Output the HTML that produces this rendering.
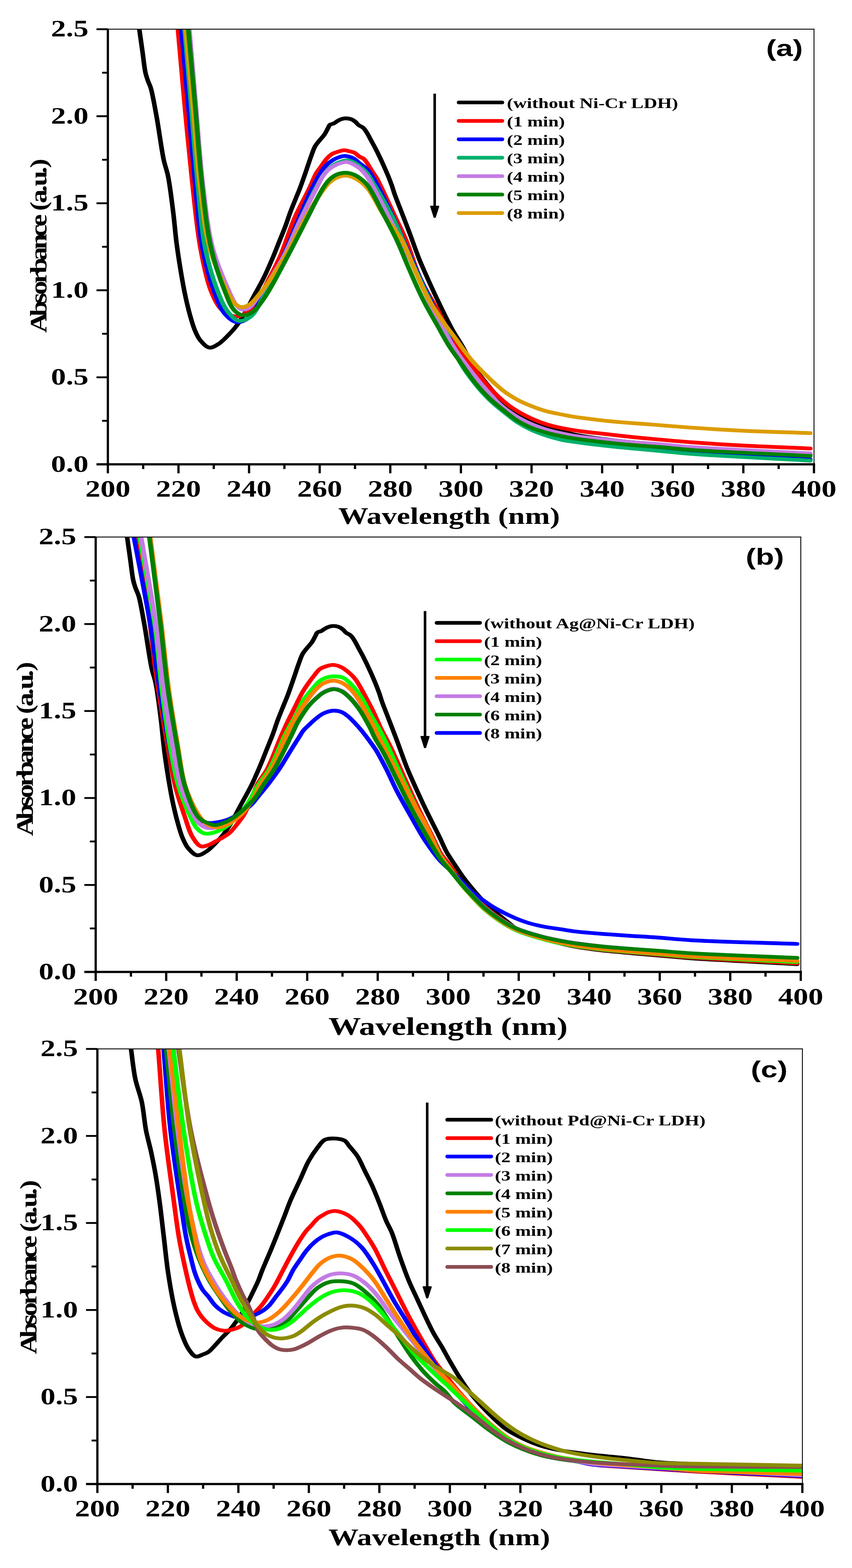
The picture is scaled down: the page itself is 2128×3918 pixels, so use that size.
<!DOCTYPE html>
<html lang="en">
<head>
<meta charset="utf-8">
<title>UV-Vis absorbance spectra</title>
<style>
html,body{margin:0;padding:0;background:#fff}
body{width:2128px;height:3918px;overflow:hidden}
svg{display:block}
text{font-weight:bold;fill:#000}
.se{font-family:"Liberation Serif", "DejaVu Serif", serif}
.sa{font-family:"Liberation Sans", "DejaVu Sans", sans-serif}
.cv path{fill:none;stroke-width:9.4;stroke-linejoin:round;stroke-linecap:round}
.lg path{fill:none;stroke-width:9.2;stroke-linecap:round}
</style>
</head>
<body>

<svg width="2128" height="3918" viewBox="0 0 2128 3918" role="img" aria-label="UV-Vis absorbance spectra, panels a, b and c">
<rect width="2128" height="3918" fill="#fff"/>
<g id="panel-a">
<clipPath id="clip-a"><rect x="269.4" y="73" width="1763.6" height="1087.2"/></clipPath>
<g clip-path="url(#clip-a)"><g class="cv" transform="scale(1.22 1)">
<path d="M285.2 73C287.4 92 289.7 111.5 291.8 130C293.8 147.6 295.4 168.3 297.8 181.5C299.3 189.9 301 195.3 302.9 202C304.7 208.4 306.9 212.4 308.9 220.8C312.8 236.9 316.7 266 320.7 292.3C325.5 324.4 330.5 372.4 335.2 399.5C338.2 416.3 341.3 423.8 344 440C348 463.9 351.5 500.1 354.5 529.3C357.4 557.2 358.8 583.3 361.9 611.5C365.2 641.5 370.2 679.1 373.8 704C376.2 720.9 378.1 732.3 380.7 746.5C383.3 760.8 386.3 775.9 389.4 789.3C392.2 801.2 394.6 812.5 398.2 823C401.5 832.7 404.6 842.4 409.9 850.1C415 857.5 422.3 867.7 429 868.7C435.1 869.6 442 863.7 448 859C455.3 853.4 462.6 843.2 468.5 836C473.4 829.9 477.1 825.2 481.3 818.7C486.3 811.1 491.7 801.4 496 793C500 785.2 503 778 506.6 770C510.3 761.5 513.6 753.8 518 743.6C524.2 729.6 533.3 710.7 540.2 693.6C547.2 676.2 554 656.5 559.8 640C564.6 626 568.4 613.6 572.6 600.8C576.6 588.6 580.7 577 584.3 565.1C588 553.2 590.9 541.2 594.6 529.3C598.3 517.4 602.8 504.3 606.3 493.6C609.2 484.9 611.6 478.4 614.2 470C617.1 460.6 620.5 448.8 623 440C625 433.2 626.2 428.7 628.1 421.9C630.6 413.1 633.7 401.2 636.6 391.5C639.4 382.5 641.7 372.8 645.1 365.5C647.8 359.6 651.3 355.3 654.5 350.4C657.7 345.5 661.4 341.1 664.3 336.1C667.1 331 669.5 324.4 671.6 320C673 316.9 673.3 313.9 675.2 312C677.2 310.1 680.5 310 683.3 308.4C686.6 306.4 689.9 302.5 693.6 300.4C697.2 298.4 701.2 296.4 705.2 295.9C709.4 295.4 714.6 296.2 718.4 297.7C721.9 299.1 724.6 301.5 727.2 304C730 306.6 731.8 310.4 734.6 312.9C737.2 315.4 740.8 316.4 743.4 319.1C746.3 322.2 748.3 326.3 750.7 330.8C753.7 336.4 756.6 343.9 759.5 350.4C762.4 357 765.4 363.4 768.3 370.1C771.3 377.1 774.2 384.2 777 391.5C780 399.1 782.9 406.9 785.8 414.8C788.8 423 791.9 431.6 794.7 439.8C797.3 447.7 799.7 455.3 802 463C804.2 470.6 805.5 477 808.1 485.9C811.9 498.7 817.9 516.8 822.8 532.3C827.7 547.8 832.2 561.8 837.5 578.8C843.8 599.3 852.4 629.7 858 646.7C861.3 657 862.8 660.9 866.6 671.5C873.4 690.4 885.9 724.5 895.9 750C905.5 774.5 915.9 801.1 925.2 821.6C932.3 837.4 938.6 848.1 945.7 863C953.9 880.2 962.3 902.4 971.3 919C979 933.2 986.9 944.2 995.5 957C1004.6 970.5 1013.7 985.6 1024.6 998C1035.2 1010.2 1048.2 1021.9 1059.8 1031C1069.7 1038.7 1079.2 1044.4 1089.1 1050C1098.7 1055.4 1108.6 1059.6 1118.4 1064C1128 1068.3 1137.7 1072.3 1147.5 1076C1157.3 1079.7 1165.4 1083 1177 1086C1193.1 1090.2 1216 1093.8 1235.6 1097C1255.1 1100.2 1274.7 1102.7 1294.2 1105C1313.6 1107.3 1332.6 1108.9 1352.5 1111C1373.3 1113.2 1392.7 1115.8 1416.4 1118C1446 1120.8 1480.1 1123.4 1516.4 1126C1559.7 1129.1 1611.5 1132 1659 1135" stroke="#000000"/>
<path d="M364.3 73C368.8 135.3 373.1 197.6 377.9 260C382.7 322.6 387.5 386.9 393 448C398.3 506.3 402.7 568.5 410.2 618.7C416.2 658.7 423 698.3 431.6 725.9C437.4 744.2 443.2 759.5 450.8 770C456.2 777.4 462.7 782.6 468.9 786C473.9 788.8 479 790.7 484.3 790.5C489.9 790.3 496 788.1 501.6 784C509.6 778.2 517.5 766.7 524.6 755C533.7 740 541.1 718.8 549.2 700C557.5 680.5 565.6 662.5 573.7 640C583.7 612.1 592.5 574.6 603 545C612.6 518.3 625.6 490.4 633.5 470C639 456 642.2 444.1 646.7 434.4C650.1 427.3 653.4 422.6 657 416.5C660.7 410.1 664.5 402.5 668.7 396.9C672.4 392 676.2 387.4 680.4 384.4C684.1 381.8 688.1 380.5 692.1 379C696.2 377.5 700.6 375.5 704.6 375.4C708.4 375.3 712 377 715.6 378.1C719.1 379.1 722.6 379.7 725.8 381.7C729.5 384 732.6 388.9 736.1 391.5C739 393.8 742.2 394.2 744.8 396.9C748.2 400.3 750.8 406.1 753.6 411.2C756.7 416.7 759.4 423.2 762.4 429C765.3 434.5 768.3 439.1 771.2 445.1C774.7 452.4 777.3 459.6 781.5 470C788.4 487.3 799.5 517.1 808.1 539.5C816.1 560.4 823.6 577.3 831.4 600C841.1 628.3 849.4 666.3 860.7 696.5C871.1 724.4 884.3 748.5 895.9 775C907.7 802.1 918.9 834.2 931 857.3C940.5 875.4 950.9 888.6 960.3 903.8C969.4 918.3 977.3 932.8 986.6 946.5C995.8 960.1 1005.7 973.8 1015.8 985.8C1025.3 996.9 1035 1007.3 1045.2 1016.2C1054.6 1024.4 1064.5 1031.3 1074.4 1037.6C1084 1043.7 1093.8 1049.1 1103.8 1053.7C1113.4 1058.2 1123.2 1062 1133 1065.1C1142.7 1068.2 1152.5 1070.1 1162.3 1072.3C1172 1074.4 1180.8 1076.2 1191.6 1078C1204.8 1080.2 1219.9 1081.9 1235.6 1084C1253.7 1086.5 1274.7 1089.5 1294.2 1092C1313.6 1094.4 1332.6 1096.5 1352.5 1098.7C1373.3 1101 1392.7 1103.1 1416.4 1105.2C1446 1107.9 1480.1 1110.6 1516.4 1113C1559.7 1115.9 1611.5 1118.1 1659 1120.7" stroke="#ff0000"/>
<path d="M371.3 73C376 135.3 380.6 196.9 385.2 260C390 324.7 394.3 394.3 399.4 456.7C404.1 513.3 406.9 570.5 414.3 618.7C420.5 658.3 429 696.2 437.8 725.9C444.3 747.9 449.6 768.2 459 782C466.1 792.4 475.5 803.3 484.3 804.8C491.9 806.1 501.1 801.2 508.2 795C518 786.4 523.9 770 532.8 752C546.8 723.7 566.5 675.5 580 640C592 608.6 600.5 579.1 610.7 550C620.3 522.5 629.7 493.3 639.3 470C647.1 451.2 655.6 431.4 662.8 420.1C666.9 413.5 670.1 410 674.5 405.8C678.9 401.7 684 397.8 689.2 395.1C694.2 392.5 699.8 389.8 705.2 389.7C711 389.6 717.6 392 722.9 395.1C728.4 398.4 732.7 404.6 737.5 409.4C742.4 414.2 748 418.4 752.1 423.7C756.3 429.1 759 435 762.4 441.5C766.3 449.1 769.4 455.7 774.1 466.6C782.6 486.2 796.3 520.8 807.4 550C819.4 581.7 830.7 615.9 843.3 650C856.6 685.9 871.9 726.3 885.2 760C896.7 788.9 908.1 814.5 918 840C927 863 933.1 885.9 942.6 906C951.3 924.2 961.7 940.6 971.9 956C981.3 970.2 991.1 983.5 1001.2 995.5C1010.7 1006.6 1020.6 1016.3 1030.5 1026C1040.1 1035.4 1049.7 1045.2 1059.8 1053C1069.3 1060.3 1079.1 1066.6 1089.1 1072C1098.7 1077.2 1108.5 1081.1 1118.4 1085C1128 1088.8 1135 1091.8 1147.5 1095C1168.8 1100.4 1204.1 1105.4 1235.6 1110C1271.7 1115.3 1319.3 1120.6 1352.5 1124.4C1376.9 1127.2 1388.2 1128.6 1416.4 1131C1471.2 1135.8 1578.1 1142.4 1659 1148.1" stroke="#0000ff"/>
<path d="M378 73C382.3 135.3 386.6 196.9 391 260C395.4 324.7 399.3 394.3 404.4 456.7C409.1 513.4 412 570.5 419.9 618.7C426.4 658.4 435.7 696.5 445.1 725.9C451.9 747.3 458.4 766.6 467.2 780C473.6 789.7 480.8 800.1 488.7 801.7C495.9 803.2 505.3 798.2 512.3 792C522.2 783.2 528.1 766.2 536.9 748C550.3 720.3 567.7 674.5 581.1 640C593.3 608.7 603.1 579 614.3 550C625 522.5 637.6 490.8 646.7 470C652.6 456.5 656.9 446.1 662.3 437C666.5 429.9 670.5 424 675.4 419C679.8 414.5 684.3 411 689.8 408C695.6 404.8 703.5 400.9 709.7 400.8C715.1 400.7 720.3 403.3 725 406C729.9 408.8 734.2 413.1 738.5 417.5C743.3 422.3 748.3 427.6 752.5 434C757.2 441.2 761.4 452.4 764.8 459C767 463.4 767.9 464.6 770.5 470C777.6 484.6 795.9 523.2 807.4 552C819.8 583 829.5 616.5 841.8 650C854.9 685.7 870.1 726.1 883.6 760C895.4 789.4 907.7 816.2 918 842C927.1 864.8 933.2 887 942.6 907C951.3 925.4 961.7 942.3 971.9 958C981.3 972.4 991 985.9 1001.2 998C1010.6 1009.2 1020.6 1018.8 1030.5 1028.5C1040.1 1037.9 1049.7 1047.6 1059.8 1055.5C1069.3 1062.9 1079.1 1069.4 1089.1 1075C1098.6 1080.3 1108.5 1084.6 1118.4 1088.5C1128 1092.3 1137.7 1095.7 1147.5 1098.4C1157.3 1101 1165.5 1102.3 1177 1104.4C1193.2 1107.3 1216 1110.7 1235.6 1113.4C1255.1 1116.1 1274.7 1118.2 1294.2 1120.5C1313.6 1122.8 1332.6 1124.7 1352.5 1127C1373.3 1129.4 1388.2 1131.8 1416.4 1134.4C1471.2 1139.4 1578.1 1145.5 1659 1151" stroke="#00b06c"/>
<path d="M387.7 73C392.1 135.3 396.3 196.9 400.8 260C405.4 324.7 408.9 394.4 415 456.7C420.6 513.4 424.8 570.7 435.2 618.7C443.7 658.5 458.7 699.8 468.3 725.9C473.9 741.3 478.1 753.7 483.6 762C487.1 767.2 490.3 771.9 494.5 773.1C498.5 774.3 503.6 773.1 508.2 770C516.2 764.6 523.8 749.9 532.8 735C546.9 711.4 567.1 671.6 581 640C594.2 610 603.3 579 614.8 550C625.7 522.4 639.6 490.3 648.2 470C653.5 457.5 656.4 448.3 661.3 439.8C665.3 432.8 669.6 426.8 674.5 421.9C679 417.5 683.6 414 689.2 411.2C695.2 408.2 703.5 404.6 709.7 404.9C715 405.2 719.8 408.4 724.3 411.2C729.1 414.1 733.4 417.6 737.5 421.9C742.3 426.9 746.6 433 750.7 439.8C755.4 447.7 758.6 455.1 763.9 466.6C773 486.6 787 520.9 799.2 550C812.5 581.8 826.9 615.8 840.3 650C854.3 685.7 866.3 723.6 881.1 760C896.2 796.9 913.3 837.3 930.3 870C944.9 897.9 962.2 924.6 975.4 945C984.9 959.7 992.1 969.9 1001.2 982C1010.4 994.2 1020.1 1007.5 1030.3 1018C1039.7 1027.6 1049.7 1035.7 1059.8 1043C1069.3 1049.9 1079.2 1055.7 1089.1 1060.8C1098.7 1065.7 1108.5 1069.7 1118.4 1073.3C1128 1076.8 1137.7 1079.6 1147.5 1082.3C1157.3 1085 1165.5 1087.2 1177 1089.4C1193.2 1092.5 1216 1095 1235.6 1097.6C1255.1 1100.2 1274.7 1102.7 1294.2 1104.8C1313.6 1106.9 1332.6 1108.2 1352.5 1110.2C1373.3 1112.3 1388.2 1114.7 1416.4 1117.2C1471.2 1122 1578.1 1127.7 1659 1133" stroke="#c47be4"/>
<path d="M380.1 73C384.8 135.3 389.5 196.9 394.3 260C399.1 324.7 402.6 394.4 408.8 456.7C414.4 513.4 418.3 570.7 429 618.7C438 658.6 454.1 701.1 464.2 725.9C469.8 739.6 473.6 749.9 479.5 757C483.6 762 488.1 766.3 493 767.2C497.7 768.1 503.1 766.4 508.2 763C516.3 757.6 523.7 745.6 532.8 732C547.6 709.9 568.7 670.9 583.9 640C598.6 610.2 610.1 577.4 623 550C634 526.4 646 502 655.7 485C662.3 473.5 667.4 464.2 673.8 457C678.7 451.4 683.4 447 689.2 444C694.9 441 702.1 438.8 708.2 438.9C713.9 439 719.5 441.4 724.6 444C729.9 446.7 734.7 450.5 739.3 455C744.6 460 748.8 464.7 754.1 473C763.7 487.9 775.3 518.5 786.9 540C798.1 560.8 812.2 577.9 822.6 600C834.3 624.7 842.5 656.9 851.9 682.2C860 704.1 866.6 723.3 875.4 743C884.2 762.5 894.6 782 904.7 800C914.1 816.9 925.3 833.6 933.9 848C940.9 859.7 946.2 869.7 952.6 880C958.8 889.9 964.5 898.7 971.9 908.6C980.4 920.1 991.3 933.3 1001.2 944.8C1010.8 955.9 1020.3 967.2 1030.5 976.5C1039.9 985.2 1049.8 992.7 1059.8 999.3C1069.3 1005.5 1079.2 1010.5 1089.1 1015.2C1098.7 1019.8 1108.5 1024.1 1118.4 1027.5C1128 1030.8 1137.9 1032.8 1147.7 1035.2C1157.5 1037.6 1167.2 1040 1177 1041.9C1186.8 1043.8 1196.6 1045 1206.3 1046.5C1216.1 1048 1225.8 1049.5 1235.6 1050.8C1245.3 1052.1 1255.1 1053.3 1264.8 1054.4C1274.6 1055.5 1284.4 1056.4 1294.2 1057.3C1303.9 1058.2 1313.7 1058.9 1323.4 1059.8C1333.1 1060.7 1340.9 1061.5 1352.5 1062.6C1369.6 1064.2 1392.7 1066.6 1416.4 1068.6C1446 1071.1 1480.1 1073.9 1516.4 1076C1559.7 1078.6 1611.5 1080.2 1659 1082.3" stroke="#dc9c00"/>
<path d="M385.4 73C390 135.3 394.6 196.9 399.2 260C403.9 324.7 407.4 394.4 413.2 456.7C418.5 513.4 423 570.5 432 618.7C439.4 658.4 450.3 697.3 459.8 725.9C466.3 745.7 471.3 764.5 479.5 775C484.8 781.8 491.2 787.3 497.5 788C503.5 788.7 510.3 784.9 516.4 780C525.1 773 532.2 760.3 541 745C555.4 719.8 574.2 673.8 589 640C602.7 608.9 614.7 579.1 627 550C638.7 522.5 652 487.9 661.3 470C666.3 460.4 669.5 454.5 674.5 448.7C678.9 443.6 683.6 439 689.2 436.2C694.8 433.3 702.1 431.6 708.2 431.7C713.8 431.8 719.3 433.8 724.3 436.2C729.6 438.7 734.3 442.5 738.9 446.9C744.1 451.8 748.5 456.5 753.6 464.8C762.6 479.4 773.2 507.8 782.8 530C792.7 552.9 803.2 576.4 812.3 600C821.4 623.6 828.5 647.2 837.3 671.5C846.5 697.1 856.3 725.3 866.6 750C875.9 772.7 886.6 794.3 895.9 814.4C904.1 832.2 911.2 848.8 919.3 864.5C926.8 878.9 934.4 890.8 942.6 905C951.8 920.8 961.7 939.6 971.9 955C981.3 969.2 991.1 982.4 1001.2 994.4C1010.6 1005.5 1020.6 1015.1 1030.5 1024.7C1040.1 1034.1 1049.7 1043.9 1059.8 1051.5C1069.3 1058.6 1079.1 1064.4 1089.1 1069.4C1098.7 1074.2 1108.5 1077.6 1118.4 1081C1128 1084.3 1137.7 1086.9 1147.5 1089.4C1157.3 1091.9 1165.5 1093.8 1177 1095.9C1193.2 1098.9 1216 1102.1 1235.6 1104.8C1255.1 1107.5 1274.7 1109.9 1294.2 1112C1313.6 1114.1 1332.6 1115.3 1352.5 1117.3C1373.3 1119.4 1388.2 1122 1416.4 1124.4C1471.2 1129.1 1578.1 1134.3 1659 1139.2" stroke="#008000"/>
</g></g>
<g class="ax">
<rect x="269.4" y="71.8" width="1764.8" height="2.2"/>
<rect x="2032" y="71.8" width="2.2" height="1088.4"/>
<rect x="266.6" y="71.8" width="5.6" height="1110.8"/>
<rect x="241" y="1157.4" width="1794.8" height="5.6"/>
<rect x="255" y="1049.2" width="14.4" height="4.6"/>
<rect x="241" y="940.5" width="28.4" height="4.6"/>
<rect x="255" y="831.7" width="14.4" height="4.6"/>
<rect x="241" y="723" width="28.4" height="4.6"/>
<rect x="255" y="614.3" width="14.4" height="4.6"/>
<rect x="241" y="505.6" width="28.4" height="4.6"/>
<rect x="255" y="396.9" width="14.4" height="4.6"/>
<rect x="241" y="288.1" width="28.4" height="4.6"/>
<rect x="255" y="179.4" width="14.4" height="4.6"/>
<rect x="241" y="70.7" width="28.4" height="4.6"/>
<rect x="354.8" y="1160.2" width="5.6" height="11.8"/>
<rect x="443" y="1160.2" width="5.6" height="22.4"/>
<rect x="531.1" y="1160.2" width="5.6" height="11.8"/>
<rect x="619.3" y="1160.2" width="5.6" height="22.4"/>
<rect x="707.5" y="1160.2" width="5.6" height="11.8"/>
<rect x="795.7" y="1160.2" width="5.6" height="22.4"/>
<rect x="883.9" y="1160.2" width="5.6" height="11.8"/>
<rect x="972" y="1160.2" width="5.6" height="22.4"/>
<rect x="1060.2" y="1160.2" width="5.6" height="11.8"/>
<rect x="1148.4" y="1160.2" width="5.6" height="22.4"/>
<rect x="1236.6" y="1160.2" width="5.6" height="11.8"/>
<rect x="1324.8" y="1160.2" width="5.6" height="22.4"/>
<rect x="1412.9" y="1160.2" width="5.6" height="11.8"/>
<rect x="1501.1" y="1160.2" width="5.6" height="22.4"/>
<rect x="1589.3" y="1160.2" width="5.6" height="11.8"/>
<rect x="1677.5" y="1160.2" width="5.6" height="22.4"/>
<rect x="1765.7" y="1160.2" width="5.6" height="11.8"/>
<rect x="1853.8" y="1160.2" width="5.6" height="22.4"/>
<rect x="1942" y="1160.2" width="5.6" height="11.8"/>
<rect x="2030.2" y="1160.2" width="5.6" height="22.4"/>
</g>
<g class="tl">
<text class="se" transform="translate(221 1178.5) scale(1.25 1)" font-size="60" text-anchor="end">0.0</text>
<text class="se" transform="translate(221 961.1) scale(1.25 1)" font-size="60" text-anchor="end">0.5</text>
<text class="se" transform="translate(221 743.6) scale(1.25 1)" font-size="60" text-anchor="end">1.0</text>
<text class="se" transform="translate(221 526.2) scale(1.25 1)" font-size="60" text-anchor="end">1.5</text>
<text class="se" transform="translate(221 308.7) scale(1.25 1)" font-size="60" text-anchor="end">2.0</text>
<text class="se" transform="translate(221 91.3) scale(1.25 1)" font-size="60" text-anchor="end">2.5</text>
<text class="se" transform="translate(269.4 1241.2) scale(1.25 1)" font-size="60" text-anchor="middle">200</text>
<text class="se" transform="translate(445.8 1241.2) scale(1.25 1)" font-size="60" text-anchor="middle">220</text>
<text class="se" transform="translate(622.1 1241.2) scale(1.25 1)" font-size="60" text-anchor="middle">240</text>
<text class="se" transform="translate(798.5 1241.2) scale(1.25 1)" font-size="60" text-anchor="middle">260</text>
<text class="se" transform="translate(974.8 1241.2) scale(1.25 1)" font-size="60" text-anchor="middle">280</text>
<text class="se" transform="translate(1151.2 1241.2) scale(1.25 1)" font-size="60" text-anchor="middle">300</text>
<text class="se" transform="translate(1327.6 1241.2) scale(1.25 1)" font-size="60" text-anchor="middle">320</text>
<text class="se" transform="translate(1503.9 1241.2) scale(1.25 1)" font-size="60" text-anchor="middle">340</text>
<text class="se" transform="translate(1680.3 1241.2) scale(1.25 1)" font-size="60" text-anchor="middle">360</text>
<text class="se" transform="translate(1856.6 1241.2) scale(1.25 1)" font-size="60" text-anchor="middle">380</text>
<text class="se" transform="translate(2033 1241.2) scale(1.25 1)" font-size="60" text-anchor="middle">400</text>
</g>
<text class="se" transform="translate(1121.7 1309) scale(1.265 1)" font-size="59.5" text-anchor="middle">Wavelength (nm)</text>
<text class="se" transform="translate(116.1 831.6) rotate(-90) scale(1.17 1)" font-size="60" x="0 35.1 62.1 81 105.3 126.8 153.8 178.1 205.1 226.7 248.2 260.4 276.5 300.8 313 340 352.1">Absorbance (a.u.)</text>
<text class="sa" transform="translate(1913.5 139.8) scale(1.33 1)" font-size="56.5" text-anchor="start">(a)</text>
<g class="lg">
<path d="M1145.5 256H1254.7" stroke="#000000"/>
<text class="se" transform="translate(1266 270) scale(1.307 1)" font-size="36" text-anchor="start">(without Ni-Cr LDH)</text>
<path d="M1145.5 302.1H1254.7" stroke="#ff0000"/>
<text class="se" transform="translate(1266 316.1) scale(1.307 1)" font-size="36" text-anchor="start">(1 min)</text>
<path d="M1145.5 348.1H1254.7" stroke="#0000ff"/>
<text class="se" transform="translate(1266 362.1) scale(1.307 1)" font-size="36" text-anchor="start">(2 min)</text>
<path d="M1145.5 394.1H1254.7" stroke="#00b06c"/>
<text class="se" transform="translate(1266 408.1) scale(1.307 1)" font-size="36" text-anchor="start">(3 min)</text>
<path d="M1145.5 440.2H1254.7" stroke="#c47be4"/>
<text class="se" transform="translate(1266 454.2) scale(1.307 1)" font-size="36" text-anchor="start">(4 min)</text>
<path d="M1145.5 486.2H1254.7" stroke="#008000"/>
<text class="se" transform="translate(1266 500.2) scale(1.307 1)" font-size="36" text-anchor="start">(5 min)</text>
<path d="M1145.5 532.3H1254.7" stroke="#dc9c00"/>
<text class="se" transform="translate(1266 546.3) scale(1.307 1)" font-size="36" text-anchor="start">(8 min)</text>
</g>
<rect x="1082.5" y="234" width="6.4" height="282"/>
<path d="M1075.9 514Q1073.9 514 1074.5 516.5L1083.1 543.5Q1085.7 545.8 1088.3 543.5L1096.9 516.5Q1097.5 514 1095.5 514Z"/>
</g>
<g id="panel-b">
<clipPath id="clip-b"><rect x="239" y="1342" width="1761" height="1086.6"/></clipPath>
<g clip-path="url(#clip-b)"><g class="cv" transform="scale(1.22 1)">
<path d="M260.2 1341.4C262.4 1360.4 264.6 1379.9 266.8 1398.4C268.8 1416 270.4 1436.7 272.8 1449.9C274.3 1458.3 275.9 1463.7 277.8 1470.4C279.7 1476.8 281.9 1480.8 283.9 1489.2C287.8 1505.3 291.7 1534.4 295.6 1560.7C300.4 1592.8 305.4 1640.8 310.2 1667.9C313.1 1684.7 316.2 1692.2 318.9 1708.4C322.9 1732.3 326.4 1768.5 329.4 1797.7C332.3 1825.6 333.7 1851.7 336.8 1879.9C340 1909.9 345 1947.5 348.6 1972.4C351.1 1989.3 352.9 2000.7 355.5 2014.9C358.1 2029.2 361.2 2044.3 364.3 2057.7C367 2069.6 369.4 2080.9 373 2091.4C376.3 2101.1 379.4 2110.8 384.7 2118.5C389.8 2125.9 397.1 2136.1 403.8 2137.1C409.8 2138 416.7 2132.1 422.8 2127.4C430 2121.8 437.4 2111.6 443.2 2104.4C448.2 2098.3 451.8 2093.6 456 2087.1C461 2079.5 466.3 2069.8 470.7 2061.4C474.7 2053.6 477.7 2046.4 481.2 2038.4C485 2029.9 488.2 2022.2 492.7 2012C498.8 1998 507.9 1979.1 514.8 1962C521.8 1944.6 528.6 1924.9 534.3 1908.4C539.2 1894.4 543 1882 547.2 1869.2C551.2 1857 555.2 1845.4 558.9 1833.5C562.5 1821.6 565.5 1809.6 569.1 1797.7C572.8 1785.8 577.3 1772.7 580.8 1762C583.7 1753.3 586.1 1746.8 588.7 1738.4C591.6 1729 595 1717.2 597.5 1708.4C599.5 1701.6 600.7 1697.1 602.6 1690.3C605.1 1681.5 608.2 1669.6 611.1 1659.9C613.8 1650.9 616.1 1641.2 619.5 1633.9C622.3 1628 625.7 1623.7 629 1618.8C632.1 1613.9 635.9 1609.5 638.7 1604.5C641.5 1599.4 644 1592.8 646 1588.4C647.4 1585.3 647.7 1582.3 649.7 1580.4C651.6 1578.5 654.9 1578.4 657.7 1576.8C661 1574.8 664.3 1570.9 668 1568.8C671.6 1566.8 675.6 1564.8 679.6 1564.3C683.8 1563.8 689 1564.6 692.8 1566.1C696.2 1567.5 698.9 1569.9 701.5 1572.4C704.3 1575 706.2 1578.8 708.9 1581.3C711.6 1583.8 715.1 1584.8 717.7 1587.5C720.6 1590.6 722.6 1594.7 725 1599.2C728 1604.8 730.9 1612.3 733.8 1618.8C736.7 1625.4 739.7 1631.8 742.6 1638.5C745.5 1645.5 748.4 1652.6 751.3 1659.9C754.3 1667.5 757.2 1675.3 760.1 1683.2C763 1691.4 766.2 1700 768.9 1708.2C771.5 1716.1 773.9 1723.7 776.2 1731.4C778.4 1739 779.7 1745.4 782.3 1754.3C786.1 1767.1 792.1 1785.2 797 1800.7C801.9 1816.2 806.4 1830.2 811.6 1847.2C817.9 1867.7 826.6 1898.1 832.1 1915.1C835.4 1925.4 836.9 1929.3 840.7 1939.9C847.5 1958.8 860 1992.9 870 2018.4C879.6 2042.9 891 2069.6 899.2 2090C905.3 2105.2 909.2 2117.7 914.8 2130C919.9 2141 925.6 2150.6 930.9 2160.4C935.9 2169.6 940.5 2178.7 945.6 2187.2C950.3 2195.3 955 2202.5 960.2 2210.4C965.8 2218.8 971.8 2227.7 977.9 2236C984 2244.3 990.8 2253.2 996.9 2260.4C1002 2266.4 1006.5 2271.4 1011.5 2276.5C1016.3 2281.5 1021.3 2286 1026.1 2290.8C1031 2295.6 1035.9 2300.4 1040.8 2305.1C1045.7 2309.7 1049.8 2314.5 1055.4 2318.6C1061.8 2323.2 1070.1 2327.3 1077.4 2331C1084.4 2334.5 1091.4 2337.6 1098.4 2340.5C1105.1 2343.3 1111 2345.6 1118.4 2348.2C1127.2 2351.3 1137.9 2354.7 1147.7 2357.5C1157.5 2360.3 1167.2 2363.1 1177 2365.3C1186.8 2367.5 1196.5 2369.1 1206.3 2370.8C1216.1 2372.5 1225.8 2374 1235.6 2375.3C1245.3 2376.6 1255.1 2377.6 1264.8 2378.7C1274.6 2379.8 1284.4 2381 1294.2 2382C1303.9 2383.1 1313.7 2384 1323.4 2385C1333.1 2386 1340.9 2386.8 1352.5 2388C1369.6 2389.8 1388.8 2392.4 1416.4 2394.8C1467 2399.2 1560.1 2404.4 1632 2409.2" stroke="#000000"/>
<path d="M277 1342C287 1414.2 300.4 1501.8 307 1558.7C311.2 1595.6 312.6 1621.6 315.6 1650C318.2 1674.9 320.4 1692.6 323.9 1720C328.8 1759.3 336.5 1819.4 342.9 1863C348.2 1899.9 352.5 1933.6 359 1965C364.7 1992.5 372.3 2019.1 378.6 2041.7C383.7 2059.7 387 2077 393.4 2090C398.4 2100.1 404.6 2112 411.1 2114.6C415.6 2116.5 420.9 2113.8 425.7 2112C430.7 2110.1 435.5 2106.1 440.3 2103C445.2 2099.9 450.1 2097 454.9 2093.5C459.9 2089.9 465.1 2086.3 469.7 2081.5C474.8 2076.1 479 2069 483.6 2062C488.7 2054.2 494.3 2046 498.9 2036.8C504 2026.6 507.9 2015 512.3 2003C517.2 1989.6 520.9 1973.9 526.8 1960C532.7 1946.2 540.8 1935.9 547.7 1920C557.1 1898.2 567.4 1861.9 575.2 1840C580.8 1824.6 584.9 1813.5 589.9 1800.8C594.7 1788.6 599.8 1776.7 604.5 1765.1C609 1754.1 613.1 1742.9 617.7 1732.9C621.9 1723.9 626.4 1715.8 630.9 1707.9C635.2 1700.4 639.9 1692.9 644.1 1686.5C647.6 1681.2 650.2 1675.8 654.3 1672.2C658.1 1668.8 662.9 1666.8 667.5 1665C672.2 1663.2 677.2 1661.2 682.1 1661.4C687.4 1661.6 693.3 1664 698.3 1666.8C703.6 1669.8 708.3 1674.5 713 1679.3C718.1 1684.5 723.3 1690.6 727.5 1697.2C732.1 1704.2 735.6 1712.6 739.3 1720.4C742.9 1728.1 746 1735.6 749.5 1743.6C753.3 1752.2 757.6 1761.5 761.2 1770.5C764.9 1779.4 768.4 1789.1 771.5 1797.3C774.1 1804.3 775.5 1808.8 778.7 1816.9C784 1830.3 793.5 1850.9 801 1870C809.6 1892 818.3 1917.1 827.3 1941.5C836.8 1967.1 846.7 1994.6 856.6 2020.1C866.2 2044.7 877.7 2071.7 885.9 2092C892 2107 896 2119.8 901.6 2131C906.3 2140.2 911.5 2146.9 916.3 2155C921.2 2163.2 926 2171.7 930.9 2180C935.8 2188.2 940 2196 945.6 2204.5C952 2214.3 960.1 2225.6 967.5 2235.5C974.7 2244.9 982 2254.1 989.5 2262.5C996.6 2270.4 1004 2277.6 1011.5 2284.5C1018.7 2291.1 1026 2297.1 1033.4 2303C1040.7 2308.7 1047.9 2314.6 1055.4 2319.4C1062.6 2324 1070.1 2327.8 1077.4 2331.3C1084.4 2334.7 1091.4 2337.6 1098.4 2340.4C1105.1 2343.1 1111 2345.4 1118.4 2347.9C1127.2 2350.9 1137.9 2354.2 1147.7 2356.9C1157.5 2359.7 1167.2 2362.3 1177 2364.4C1186.8 2366.5 1196.5 2368.1 1206.3 2369.7C1216.1 2371.3 1225.8 2372.8 1235.6 2374.1C1245.3 2375.3 1255.1 2376.3 1264.8 2377.3C1274.6 2378.4 1284.4 2379.5 1294.2 2380.5C1303.9 2381.5 1313.7 2382.4 1323.4 2383.3C1333.1 2384.3 1340.9 2385 1352.5 2386.2C1369.6 2387.9 1388.8 2390.6 1416.4 2392.9C1467 2397.3 1560.1 2402.4 1632 2407.2" stroke="#ff0000"/>
<path d="M274.1 1342C285.2 1414.2 299.7 1501.8 307.5 1558.7C312.5 1595.6 315.1 1621.6 318.4 1650C321.4 1674.9 323.1 1692.6 326.6 1720C331.7 1759.3 339.6 1819.4 346.7 1863C352.7 1899.9 357.9 1936.5 365.6 1965C371.3 1986.4 377.4 2005.2 385.2 2020C391.3 2031.4 397.7 2041.9 405.7 2048C412.5 2053.1 421.9 2055.7 428.7 2056.5C433.8 2057.1 438.1 2055.8 442.6 2055C447 2054.3 451.2 2053.3 455.3 2052C459.4 2050.8 463.5 2049.2 467.2 2047.5C470.7 2045.9 473.7 2044.1 477 2042C480.8 2039.7 484.8 2036.8 488.5 2034C492.2 2031.2 495.4 2028.3 499.2 2025C503.7 2021.1 509 2017.2 513.6 2012C519 2005.9 523.3 1997.9 528.7 1990C534.9 1980.8 541.9 1970.8 548.8 1960C556.5 1947.7 565.5 1933 572.6 1920C579.2 1908.1 583.9 1897.4 590.2 1885C597.3 1870.9 607.7 1850.8 613.3 1840C616.4 1833.9 617.6 1830.4 620.7 1825.8C623.9 1820.9 628.2 1816.4 632.4 1811.6C636.9 1806.3 642 1800.4 647 1795.5C651.8 1790.9 656 1786.2 661.6 1783C667.6 1779.6 675.5 1776.3 682.1 1775.8C688.2 1775.4 694.4 1776.8 699.8 1779.4C705.3 1782.1 709.9 1787.2 714.4 1791.9C719.2 1796.7 723.4 1802.6 727.5 1808C731.6 1813.3 735.6 1818.7 739.3 1824.1C742.9 1829.4 746.1 1834.6 749.5 1840C753 1845.5 756.4 1851.2 759.8 1857C763.3 1862.9 766.7 1868.5 770.1 1875C773.9 1882.4 777.5 1890.8 781.1 1899C784.9 1907.5 788 1914.8 792.2 1925C798.1 1939.4 805 1959 812.7 1977.2C821.4 1997.6 832.1 2020.4 842 2041.5C851.6 2062.1 861 2083.5 871.3 2102.3C880.7 2119.4 890.2 2135.9 900.6 2150C909.7 2162.4 921.4 2173.3 929.5 2183C935.7 2190.4 939.8 2195.8 945.6 2203C952.3 2211.4 959.9 2222.1 967.5 2230.1C974.6 2237.5 982.1 2243.4 989.5 2249.7C996.8 2255.9 1004 2262.1 1011.5 2267.6C1018.7 2272.8 1026.1 2277.4 1033.4 2281.9C1040.7 2286.3 1048 2290.6 1055.4 2294.4C1062.7 2298.1 1070.1 2301.6 1077.4 2304.5C1084.4 2307.3 1091.4 2309.5 1098.4 2311.5C1105.1 2313.5 1111 2314.9 1118.4 2316.5C1127.2 2318.4 1137.9 2320.1 1147.7 2321.9C1157.5 2323.7 1167.3 2325.8 1177 2327.3C1186.8 2328.8 1196.6 2329.7 1206.3 2330.8C1216.1 2331.9 1225.8 2332.8 1235.6 2333.7C1245.3 2334.6 1255.1 2335.4 1264.8 2336.2C1274.6 2337 1284.4 2337.9 1294.2 2338.7C1303.9 2339.5 1313.7 2340 1323.4 2340.8C1333.1 2341.6 1340.9 2342.2 1352.5 2343.3C1369.6 2344.9 1388.8 2347.6 1416.4 2349.5C1467 2353 1560.1 2355.6 1632 2358.6" stroke="#0000ff"/>
<path d="M286.1 1342C296.3 1414.2 309.1 1491.7 316.8 1558.7C323.4 1616.3 325.8 1667.9 331.1 1720C336.2 1769.1 341.5 1819.4 347.9 1863C353.2 1899.9 357.8 1933.7 365.6 1965C372.4 1992.6 382.9 2022.5 390.3 2041.7C395 2053.6 397.8 2062.9 403.3 2070C407.6 2075.6 412.6 2080.7 418.4 2082.4C424.3 2084.1 431.5 2082.5 438.5 2080C447.6 2076.8 458 2070.3 467.2 2062C478.7 2051.6 490.1 2035.8 500 2020C511.1 2002.3 520 1977.8 529.5 1960C537.4 1945.2 545 1936 552.5 1920C562.6 1898.3 574 1859.8 582 1840C586.8 1828.1 590.1 1820.7 594.3 1811.6C598.2 1802.9 602.3 1795.7 606.2 1786.5C610.9 1775.7 615.3 1760.5 620.2 1750.8C623.8 1743.6 627.7 1738.7 631.6 1732.9C635.2 1727.4 638.8 1722 642.6 1716.8C646.4 1711.6 649.9 1705.8 654.3 1701.7C658.4 1698 663.3 1695 668 1693C672.5 1691.2 677 1690.1 682.1 1690C688.3 1689.9 696.8 1690.6 702.7 1693.6C708.5 1696.6 712.9 1702.8 717.3 1707.9C721.6 1712.9 725.2 1718.3 729 1724C733.1 1730.1 736.9 1736 740.7 1743.6C745.7 1753.2 750.6 1766.8 755.4 1777.6C759.9 1787.6 764.5 1797.4 768.6 1806.2C772.2 1813.9 775 1819.1 778.7 1827.6C784 1839.7 790.2 1855.3 796.7 1872C805 1893.3 814.4 1920.3 823.8 1945C833.5 1970.6 843.8 1997.9 854.1 2023C863.8 2046.8 875.1 2071.3 883.6 2092C890.5 2108.9 894.7 2123.9 901.6 2138.1C908.1 2151.3 916.3 2162.4 923.6 2174.7C930.9 2187 938 2200.2 945.6 2211.7C952.7 2222.5 960.1 2232.3 967.5 2242.1C974.7 2251.5 981.9 2261.1 989.5 2269.5C996.6 2277.4 1004 2284.5 1011.5 2291.3C1018.7 2297.8 1026 2303.8 1033.4 2309.4C1040.6 2314.7 1047.9 2319.7 1055.4 2323.9C1062.6 2328 1070.1 2331.1 1077.4 2334.2C1084.4 2337.2 1091.4 2339.7 1098.4 2342.2C1105.1 2344.6 1111 2346.8 1118.4 2349.1C1127.2 2351.8 1137.9 2354.7 1147.7 2357.2C1157.5 2359.6 1167.2 2361.8 1177 2363.8C1186.8 2365.7 1196.5 2367.1 1206.3 2368.7C1216.1 2370.2 1225.8 2371.7 1235.6 2373C1245.3 2374.2 1255.1 2375.1 1264.8 2376.1C1274.6 2377.2 1284.4 2378.3 1294.2 2379.2C1303.9 2380.2 1313.7 2381.1 1323.4 2382C1333.1 2382.9 1340.9 2383.7 1352.5 2384.8C1369.6 2386.5 1388.8 2388.9 1416.4 2391.1C1467 2395.1 1560.1 2399.6 1632 2403.8" stroke="#00ff00"/>
<path d="M289 1342C299 1414.2 311.1 1491.7 318.9 1558.7C325.5 1616.4 328.2 1667.9 334.1 1720C339.7 1769.2 346.5 1819.4 353.1 1863C358.7 1899.9 362.6 1934.5 370.5 1965C377.2 1990.8 387.1 2017.8 395.1 2035C400.1 2045.7 403.9 2054.2 409.8 2060C414.5 2064.6 419.8 2067.9 425.7 2069C432 2070.2 439.8 2068.5 446.7 2066C454.5 2063.2 461.9 2057.9 469.7 2052C479.1 2044.8 489.8 2034.5 498.4 2025C506.4 2016.1 513.2 2007.3 519.7 1997C526.7 1985.8 531.8 1972.5 538.5 1960C545.6 1946.9 560.9 1919.9 561.1 1920C561.2 1920.1 540.2 1958.4 540.3 1958.5C540.4 1958.6 555 1934.4 562.7 1918.5C573.3 1896.7 587.6 1859.5 596.1 1838.5C601.7 1824.9 604.8 1814.8 609.3 1804.7C613.2 1796.1 617 1788.9 621.1 1781.5C624.9 1774.6 628.4 1768.1 632.8 1761.8C637.2 1755.5 642.4 1749.4 647.5 1743.9C652.2 1738.7 656.4 1733.4 662 1729.6C668 1725.6 675.9 1721.1 682.5 1720.7C688.6 1720.4 694.9 1723 700.2 1726.1C705.7 1729.4 710.3 1735.2 714.8 1740.4C719.6 1745.8 723.8 1752 728 1758.2C732.1 1764.5 736 1771.1 739.7 1777.9C743.4 1784.8 745.5 1789.8 749.9 1799.3C758.6 1818.1 776.5 1857.6 787.7 1884C797.5 1906.9 805 1926.5 813.9 1948.6C823.4 1971.8 833.1 1997 843 2020.1C852.5 2042.2 862.2 2063.4 872.1 2084.4C881.8 2104.9 891.9 2128.2 901.6 2144.9C909 2157.6 916.3 2166.3 923.6 2177C930.9 2187.7 938.1 2198.9 945.6 2209.2C952.8 2219.2 960.1 2228.5 967.5 2237.9C974.8 2247 982 2256.4 989.5 2264.7C996.6 2272.4 1004 2279.5 1011.5 2286.2C1018.7 2292.6 1026 2298.6 1033.4 2304C1040.6 2309.2 1047.9 2314.2 1055.4 2318.3C1062.6 2322.3 1070.1 2325.4 1077.4 2328.3C1084.4 2331.2 1091.4 2333.6 1098.4 2336C1105.1 2338.3 1111 2340.3 1118.4 2342.5C1127.2 2345 1137.9 2347.7 1147.7 2350C1157.5 2352.3 1167.3 2354.4 1177 2356.2C1186.8 2358 1196.6 2359.4 1206.3 2360.9C1216.1 2362.4 1225.8 2363.8 1235.6 2365.1C1245.3 2366.3 1255.1 2367.1 1264.8 2368.1C1274.6 2369.2 1284.4 2370.2 1294.2 2371.1C1303.9 2372.1 1313.7 2372.9 1323.4 2373.8C1333.1 2374.7 1340.9 2375.4 1352.5 2376.5C1369.6 2378.1 1388.8 2380.4 1416.4 2382.4C1467 2386.2 1560.1 2390.1 1632 2394" stroke="#c47be4"/>
<path d="M307.5 1342C315.1 1414.2 323.7 1491.8 330.3 1558.7C336 1616.4 339.4 1667.9 345.2 1720C350.7 1769.2 357.8 1819.4 363.9 1863C369.2 1899.9 371.6 1934.6 379.5 1965C386.3 1990.9 396.9 2018.4 405.7 2035C411.2 2045.2 415.4 2052.6 422.1 2058C428.2 2062.9 436.7 2066.6 443.3 2067.2C448.8 2067.7 454.1 2065.5 459 2063.5C464 2061.5 468.4 2058.4 473 2055C478 2051.3 483 2046.8 487.7 2042C492.6 2036.9 497.1 2031.6 501.6 2025C507.2 2016.8 512.9 2006.3 518 1996C523.6 1984.8 527.3 1972.1 533.4 1960C540 1946.8 549.1 1936 556.6 1920C566.7 1898.3 577.8 1859.8 585.5 1840C590.1 1828.1 593.2 1820.7 597.2 1811.6C601 1802.9 605 1794.7 608.9 1786.5C612.8 1778.6 616.6 1770.7 620.7 1763.3C624.4 1756.4 628.1 1750.2 632.4 1743.6C636.9 1736.5 641.8 1728.4 647 1722.2C651.7 1716.7 655.9 1711.5 661.6 1707.9C667.5 1704.2 675.5 1700.9 682.1 1700.8C688.2 1700.7 694.4 1703.2 699.8 1706.1C705.2 1709.1 709.9 1713.8 714.4 1718.6C719.3 1723.8 723.5 1730.1 727.5 1736.5C731.8 1743.2 735.4 1750.2 739.3 1757.9C743.7 1766.7 748.2 1777.1 752.5 1786.5C756.5 1795.6 760.5 1804.3 764.2 1813.3C767.8 1822.2 770.5 1830.4 774.4 1840C779.1 1851.6 784.2 1862.8 790.7 1878C800.5 1900.7 816.2 1937.5 827.3 1963C836.4 1983.9 844.6 2002.8 852.5 2020C859.1 2034.4 864.6 2043.8 871.3 2059.4C880.7 2081.4 891.3 2119 901.6 2140.1C908.8 2154.8 916.3 2163.9 923.6 2175.8C930.9 2187.6 938 2200 945.6 2211.2C952.7 2221.6 960.1 2231.2 967.5 2240.9C974.8 2250.2 981.9 2259.7 989.5 2268.1C996.6 2275.9 1004 2283.1 1011.5 2289.8C1018.7 2296.3 1026 2302.4 1033.4 2307.9C1040.6 2313.2 1047.9 2318.3 1055.4 2322.5C1062.6 2326.5 1070.1 2329.7 1077.4 2332.7C1084.4 2335.7 1091.4 2338.2 1098.4 2340.7C1105.1 2343.1 1111 2345.3 1118.4 2347.6C1127.2 2350.3 1137.9 2353.2 1147.7 2355.7C1157.5 2358.1 1167.2 2360.3 1177 2362.3C1186.8 2364.2 1196.5 2365.6 1206.3 2367.2C1216.1 2368.7 1225.8 2370.2 1235.6 2371.5C1245.3 2372.7 1255.1 2373.6 1264.8 2374.7C1274.6 2375.7 1284.4 2376.8 1294.2 2377.8C1303.9 2378.8 1313.7 2379.7 1323.4 2380.6C1333.1 2381.5 1340.9 2382.3 1352.5 2383.4C1369.6 2385 1388.8 2387.3 1416.4 2389.4C1467 2393.1 1560.1 2397.1 1632 2401" stroke="#ff8000"/>
<path d="M305.7 1342C313.3 1414.2 321.9 1491.8 328.5 1558.7C334.2 1616.4 337.6 1667.9 343.4 1720C349 1769.2 356.2 1819.4 362.5 1863C367.9 1899.9 370.7 1933.8 378.7 1965C385.7 1992.7 395.8 2027.3 405.9 2041.7C411 2049 416.3 2051.6 422.1 2055C427.8 2058.3 434.5 2061.7 440.3 2061.9C445.7 2062 450.8 2059.1 455.7 2057C460.6 2054.9 465.1 2052.4 469.7 2049.3C474.7 2046 479.7 2041.8 484.4 2037.5C489.4 2032.9 493.7 2028.3 498.9 2022.5C505.6 2015 514.3 2005.6 520.9 1995.7C528.1 1985 533.3 1972.2 539.9 1960C547 1947 554.6 1935.9 562.3 1920C572.9 1898.2 587.2 1861 595.7 1840C601.2 1826.4 604.4 1816.3 608.9 1806.2C612.8 1797.6 616.6 1790.4 620.7 1783C624.4 1776.1 628 1769.6 632.4 1763.3C636.8 1757 642 1750.9 647 1745.4C651.8 1740.2 656 1734.9 661.6 1731.1C667.6 1727.1 675.5 1722.6 682.1 1722.2C688.2 1721.9 694.5 1724.5 699.8 1727.6C705.3 1730.9 709.9 1736.7 714.4 1741.9C719.2 1747.3 723.4 1753.5 727.5 1759.7C731.7 1766 735.6 1772.6 739.3 1779.4C743 1786.3 746.2 1793.5 749.5 1800.8C753 1808.4 756.9 1817 759.8 1824.1C762.1 1829.9 762.9 1833.5 765.7 1840C770.3 1851.1 779.4 1867.8 786.5 1884C795 1903.4 803.7 1926.5 812.7 1948.6C822.2 1971.8 832 1997 842 2020.1C851.5 2042.2 861.3 2063.3 871.3 2084.4C881.2 2105.3 891.7 2129.2 901.6 2146.1C909.1 2158.8 916.3 2167.5 923.6 2178.2C930.9 2188.9 938.1 2200.1 945.6 2210.4C952.8 2220.3 960.1 2229.7 967.5 2239C974.8 2248.1 982 2257.5 989.5 2265.8C996.6 2273.6 1004 2280.6 1011.5 2287.3C1018.7 2293.7 1026 2299.7 1033.4 2305.1C1040.6 2310.3 1047.9 2315.3 1055.4 2319.4C1062.6 2323.3 1070.1 2326.4 1077.4 2329.4C1084.4 2332.3 1091.4 2334.6 1098.4 2337C1105.1 2339.3 1111 2341.4 1118.4 2343.5C1127.2 2346.1 1137.9 2348.7 1147.7 2351C1157.5 2353.2 1167.3 2355.2 1177 2357C1186.8 2358.7 1196.6 2360.1 1206.3 2361.5C1216.1 2362.9 1225.8 2364.3 1235.6 2365.5C1245.3 2366.6 1255.1 2367.5 1264.8 2368.4C1274.6 2369.4 1284.4 2370.3 1294.2 2371.2C1303.9 2372.1 1313.7 2372.9 1323.4 2373.7C1333.1 2374.5 1340.9 2375.2 1352.5 2376.2C1369.6 2377.7 1388.8 2380.1 1416.4 2382.1C1467 2385.8 1560.1 2389.7 1632 2393.5" stroke="#008000"/>
</g></g>
<g class="ax">
<rect x="239" y="1340.8" width="1762.2" height="2.2"/>
<rect x="1999" y="1340.8" width="2.2" height="1087.8"/>
<rect x="236.2" y="1340.8" width="5.6" height="1110.2"/>
<rect x="210.6" y="2425.8" width="1792.2" height="5.6"/>
<rect x="224.6" y="2317.6" width="14.4" height="4.6"/>
<rect x="210.6" y="2209" width="28.4" height="4.6"/>
<rect x="224.6" y="2100.3" width="14.4" height="4.6"/>
<rect x="210.6" y="1991.7" width="28.4" height="4.6"/>
<rect x="224.6" y="1883" width="14.4" height="4.6"/>
<rect x="210.6" y="1774.3" width="28.4" height="4.6"/>
<rect x="224.6" y="1665.7" width="14.4" height="4.6"/>
<rect x="210.6" y="1557" width="28.4" height="4.6"/>
<rect x="224.6" y="1448.4" width="14.4" height="4.6"/>
<rect x="210.6" y="1339.7" width="28.4" height="4.6"/>
<rect x="324.2" y="2428.6" width="5.6" height="11.8"/>
<rect x="412.3" y="2428.6" width="5.6" height="22.4"/>
<rect x="500.3" y="2428.6" width="5.6" height="11.8"/>
<rect x="588.4" y="2428.6" width="5.6" height="22.4"/>
<rect x="676.5" y="2428.6" width="5.6" height="11.8"/>
<rect x="764.5" y="2428.6" width="5.6" height="22.4"/>
<rect x="852.6" y="2428.6" width="5.6" height="11.8"/>
<rect x="940.6" y="2428.6" width="5.6" height="22.4"/>
<rect x="1028.7" y="2428.6" width="5.6" height="11.8"/>
<rect x="1116.7" y="2428.6" width="5.6" height="22.4"/>
<rect x="1204.8" y="2428.6" width="5.6" height="11.8"/>
<rect x="1292.8" y="2428.6" width="5.6" height="22.4"/>
<rect x="1380.9" y="2428.6" width="5.6" height="11.8"/>
<rect x="1468.9" y="2428.6" width="5.6" height="22.4"/>
<rect x="1557" y="2428.6" width="5.6" height="11.8"/>
<rect x="1645" y="2428.6" width="5.6" height="22.4"/>
<rect x="1733" y="2428.6" width="5.6" height="11.8"/>
<rect x="1821.1" y="2428.6" width="5.6" height="22.4"/>
<rect x="1909.2" y="2428.6" width="5.6" height="11.8"/>
<rect x="1997.2" y="2428.6" width="5.6" height="22.4"/>
</g>
<g class="tl">
<text class="se" transform="translate(190.6 2446.9) scale(1.25 1)" font-size="60" text-anchor="end">0.0</text>
<text class="se" transform="translate(190.6 2229.6) scale(1.25 1)" font-size="60" text-anchor="end">0.5</text>
<text class="se" transform="translate(190.6 2012.3) scale(1.25 1)" font-size="60" text-anchor="end">1.0</text>
<text class="se" transform="translate(190.6 1794.9) scale(1.25 1)" font-size="60" text-anchor="end">1.5</text>
<text class="se" transform="translate(190.6 1577.6) scale(1.25 1)" font-size="60" text-anchor="end">2.0</text>
<text class="se" transform="translate(190.6 1360.3) scale(1.25 1)" font-size="60" text-anchor="end">2.5</text>
<text class="se" transform="translate(239 2509.6) scale(1.25 1)" font-size="60" text-anchor="middle">200</text>
<text class="se" transform="translate(415.1 2509.6) scale(1.25 1)" font-size="60" text-anchor="middle">220</text>
<text class="se" transform="translate(591.2 2509.6) scale(1.25 1)" font-size="60" text-anchor="middle">240</text>
<text class="se" transform="translate(767.3 2509.6) scale(1.25 1)" font-size="60" text-anchor="middle">260</text>
<text class="se" transform="translate(943.4 2509.6) scale(1.25 1)" font-size="60" text-anchor="middle">280</text>
<text class="se" transform="translate(1119.5 2509.6) scale(1.25 1)" font-size="60" text-anchor="middle">300</text>
<text class="se" transform="translate(1295.6 2509.6) scale(1.25 1)" font-size="60" text-anchor="middle">320</text>
<text class="se" transform="translate(1471.7 2509.6) scale(1.25 1)" font-size="60" text-anchor="middle">340</text>
<text class="se" transform="translate(1647.8 2509.6) scale(1.25 1)" font-size="60" text-anchor="middle">360</text>
<text class="se" transform="translate(1823.9 2509.6) scale(1.25 1)" font-size="60" text-anchor="middle">380</text>
<text class="se" transform="translate(2000 2509.6) scale(1.25 1)" font-size="60" text-anchor="middle">400</text>
</g>
<text class="se" transform="translate(1119 2585.6) scale(1.263 1)" font-size="64.3" text-anchor="middle">Wavelength (nm)</text>
<text class="se" transform="translate(82.3 2089) rotate(-90) scale(1.17 1)" font-size="60" x="0 35.1 62.1 81 105.3 126.8 153.8 178.1 205.1 226.7 248.2 260.4 276.5 300.8 313 340 352.1">Absorbance (a.u.)</text>
<text class="sa" transform="translate(1862.4 1410.5) scale(1.33 1)" font-size="56.5" text-anchor="start">(b)</text>
<g class="lg">
<path d="M1090.4 1556.3H1199.1" stroke="#000000"/>
<text class="se" transform="translate(1209 1570.3) scale(1.307 1)" font-size="36" text-anchor="start">(without Ag@Ni-Cr LDH)</text>
<path d="M1090.4 1602.1H1199.1" stroke="#ff0000"/>
<text class="se" transform="translate(1209 1616.1) scale(1.307 1)" font-size="36" text-anchor="start">(1 min)</text>
<path d="M1090.4 1648H1199.1" stroke="#00ff00"/>
<text class="se" transform="translate(1209 1662) scale(1.307 1)" font-size="36" text-anchor="start">(2 min)</text>
<path d="M1090.4 1693.8H1199.1" stroke="#ff8000"/>
<text class="se" transform="translate(1209 1707.8) scale(1.307 1)" font-size="36" text-anchor="start">(3 min)</text>
<path d="M1090.4 1739.7H1199.1" stroke="#c47be4"/>
<text class="se" transform="translate(1209 1753.7) scale(1.307 1)" font-size="36" text-anchor="start">(4 min)</text>
<path d="M1090.4 1785.5H1199.1" stroke="#008000"/>
<text class="se" transform="translate(1209 1799.5) scale(1.307 1)" font-size="36" text-anchor="start">(6 min)</text>
<path d="M1090.4 1831.4H1199.1" stroke="#0000ff"/>
<text class="se" transform="translate(1209 1845.4) scale(1.307 1)" font-size="36" text-anchor="start">(8 min)</text>
</g>
<rect x="1058.4" y="1526.8" width="6.4" height="314.1"/>
<path d="M1051.8 1838.9Q1049.8 1838.9 1050.4 1841.4L1059 1868.4Q1061.6 1870.7 1064.2 1868.4L1072.8 1841.4Q1073.4 1838.9 1071.4 1838.9Z"/>
</g>
<g id="panel-c">
<clipPath id="clip-c"><rect x="243.2" y="2621" width="1760.8" height="1087.2"/></clipPath>
<g clip-path="url(#clip-c)"><g class="cv" transform="scale(1.22 1)">
<path d="M268.2 2621C271.1 2645.9 273 2672.6 277 2695.8C280.5 2716.2 286.6 2732.8 290.2 2753C294.1 2775.4 295.5 2802.4 298.9 2824.4C302 2843.6 306.1 2860.1 309.3 2878C312.4 2895.9 315.3 2912.7 318 2931.7C321.1 2953.1 323.7 2975.7 326.4 3000C329.5 3027.8 332.3 3059.5 335.2 3089.3C338.2 3119.1 340.4 3149 344 3178.7C347.7 3208.5 352.1 3240.7 357.2 3268C361.6 3291.3 366.2 3313.7 371.8 3332.4C376.2 3347.3 380.6 3361.5 386.5 3371.7C390.8 3379.3 395.7 3388.1 401.1 3389.6C405.6 3390.8 411.4 3386.2 415.8 3384.2C419.6 3382.5 422.8 3381.5 426.2 3378.7C431.1 3374.7 436.1 3367 440.9 3360.8C445.8 3354.5 450.5 3347.5 455.5 3341.2C460.3 3335 465.5 3329.8 470.2 3323.3C475.3 3316.2 480.3 3307.8 484.8 3300.1C489.1 3292.9 492.8 3286.2 496.6 3278.6C500.7 3270.2 504.7 3260.3 508.3 3251.8C511.5 3244.3 514 3238.2 517 3230.4C520.7 3221.2 525.4 3209.8 528.8 3200C531.9 3191 533.5 3184.3 536.9 3174C541.9 3158.8 549.7 3137.8 556.4 3118C563.9 3095.7 573 3067.8 579.8 3046.5C585.4 3029.4 589 3016 594.5 3000C600.5 2982.7 608.3 2963.8 614.8 2946.6C620.8 2930.6 625.9 2914 632.3 2900.1C637.8 2888.2 644 2877.1 649.9 2867.9C654.8 2860.4 658.7 2852.1 664.6 2848.3C669.7 2845.1 675.9 2844.6 682.1 2844.7C689.4 2844.8 700.1 2846.4 705.6 2850.1C710 2853.1 711 2857.6 714.3 2862.6C719.2 2869.8 726.8 2879.6 732 2889.4C737.7 2900.2 741.7 2913.2 746.6 2925.1C751.4 2937 756.5 2948.4 761.2 2960.9C766.3 2974.5 771.1 2989.2 775.9 3003.8C780.9 3018.9 785.7 3036.5 790.5 3050.2C794.4 3061.3 798.2 3068.1 802.2 3080C807.9 3097.2 813.7 3123.5 819.8 3144.3C825.5 3164 831.2 3183.5 837.4 3201.5C843 3217.9 849.1 3232.5 854.9 3248C860.8 3263.5 866.9 3280 872.5 3294.4C877.6 3307.1 881.8 3318.4 887.1 3330.2C892.5 3342.2 899.1 3354.1 904.8 3365.9C910.2 3377.4 914.7 3388 920.4 3400C926.8 3413.5 933.9 3428.7 941.5 3442.9C949.2 3457.3 956.7 3471.4 966.1 3485.8C976.4 3501.5 989.1 3518.4 1001.2 3533C1012.6 3546.8 1024 3560.8 1036.4 3571.5C1047.6 3581.1 1059.6 3588.2 1071.6 3595.1C1083.1 3601.7 1094.8 3607.6 1106.7 3612.3C1118.3 3616.8 1130.1 3620.1 1141.9 3623C1153.5 3625.8 1165.3 3627.4 1177 3629.4C1188.8 3631.4 1200.5 3633.3 1212.2 3635C1223.9 3636.6 1235.7 3637.9 1247.4 3639.3C1259.1 3640.7 1270.8 3641.9 1282.5 3643.6C1294.2 3645.3 1305.9 3647.5 1317.6 3649.3C1329.3 3651.1 1338.8 3652.9 1352.5 3654.3C1371.8 3656.2 1396.8 3657.2 1423 3658.3C1455.5 3659.6 1495.8 3660.1 1532.8 3661C1570.6 3661.9 1609.3 3662.7 1647.5 3663.5" stroke="#000000"/>
<path d="M323.9 2621C328.3 2688.8 331.5 2759.1 337 2824.4C342.2 2885.1 350.4 2951.3 355.7 3000C359.6 3034.8 362.1 3061.2 366 3089.3C369.5 3114.5 373.6 3138 377.7 3160.8C381.5 3181.9 385.8 3204.8 389.4 3221.6C392 3233.5 394.1 3242.7 396.7 3252C399 3260 401.3 3267.4 404.1 3274C406.6 3279.7 409.7 3285.3 412.3 3289.5C414.3 3292.7 415.9 3294.7 418 3297.5C420.5 3300.6 422.9 3303.9 426.2 3307.2C430.3 3311.3 435.3 3316.7 440.9 3319.7C446.5 3322.7 453.7 3324.9 459.9 3325.1C465.9 3325.3 472 3323.4 477.5 3321.5C482.7 3319.7 487.4 3317.8 492.1 3314.4C497.7 3310.4 503.3 3303.7 508.2 3298C513 3292.4 517 3286.4 521.5 3280.4C526.2 3274 531.4 3267.9 536.1 3260.8C541.2 3253.1 546.4 3243.6 550.7 3235.7C554.5 3228.8 557.9 3222.4 561 3216.1C563.7 3210.5 565.6 3206.1 568.3 3200C571.7 3192.2 576 3181.9 579.8 3173C583.6 3164.3 587.1 3155.7 591 3147C594.9 3138.1 599.2 3128.6 603.3 3120C607.1 3111.9 610.8 3104.2 614.8 3096.7C618.6 3089.5 622.6 3082.2 626.7 3076C630.4 3070.4 634.3 3066 638.2 3060.9C642.1 3055.7 645.9 3049.4 650.2 3045C653.8 3041.3 657.8 3038.6 661.6 3035.9C665.2 3033.4 668.2 3030.7 672.1 3029C676.4 3027.2 681.2 3025.4 686.6 3025.9C693.8 3026.5 703.8 3030.7 711.5 3035.9C720.1 3041.8 728.7 3052.8 734.8 3060.9C739.8 3067.4 742.3 3072.4 746.6 3080C752.6 3090.7 760.5 3105 767 3119.3C774.5 3135.6 781.4 3155.4 788.5 3172.9C795.5 3189.9 802.5 3206.3 809.4 3223C816.3 3239.7 823 3256.7 829.9 3273C836.6 3288.8 843.5 3304.4 850.4 3319.5C857.1 3334.1 863.8 3348.4 870.5 3362.3C877 3375.7 883.1 3389.4 890.1 3401.7C896.5 3413.1 903.5 3422.8 910.6 3433.8C918.1 3445.4 925.3 3457.1 934 3469.6C944 3484 955.9 3500.5 967.2 3515C978.2 3528.9 989.2 3542.4 1000.8 3555C1012.2 3567.3 1023.9 3579.7 1036.1 3590C1047.4 3599.6 1059.3 3607.9 1071.3 3615C1082.8 3621.8 1094.6 3627.3 1106.6 3632C1118.1 3636.6 1130 3640 1141.8 3643C1153.5 3646 1165.4 3647.2 1177 3650C1188.6 3652.7 1197.8 3657 1211.5 3659.5C1230.7 3663 1258.5 3664 1282 3666C1305.5 3668 1329 3669.7 1352.5 3671.5C1376 3673.3 1396.9 3675.2 1423 3677C1455.5 3679.3 1495.8 3681.5 1532.8 3683.7C1570.6 3686 1609.3 3688.2 1647.5 3690.5" stroke="#ff0000"/>
<path d="M335 2621C339.7 2688.8 343.1 2759.2 349.1 2824.4C354.7 2885.1 363.4 2951.3 369.3 3000C373.5 3034.8 376.6 3063.8 380.7 3089.3C383.7 3108.6 387 3124.1 390.2 3140C393 3154.1 395.6 3168.3 398.8 3180C401.3 3189.4 404 3197.3 407 3205C409.6 3211.8 412.2 3218.1 415.6 3224C418.7 3229.5 422.5 3233.6 426.2 3239.3C430.8 3246.2 435.6 3256 440.9 3262.5C445.5 3268.1 450.4 3272.8 455.5 3276.8C460.2 3280.5 465.2 3283.2 470.2 3285.8C475 3288.3 479.9 3290.5 484.8 3292C489.6 3293.4 494.2 3295.2 499.5 3294.7C506.2 3294 515 3289.1 521.5 3285.8C527 3283 531.4 3280.4 536.1 3276.8C541.2 3272.8 546.2 3268.2 550.7 3262.5C556 3256 560.5 3247 565.4 3239.3C570.3 3231.6 575.8 3223.2 580 3216.1C583.4 3210.3 585.8 3206.2 588.9 3200C592.7 3192 596.4 3181 600.8 3172C605.1 3163.2 610.1 3155 614.8 3146.7C619.3 3138.6 623.7 3130.3 628.7 3123C633.4 3116.1 639 3109.1 644 3103.8C648.1 3099.5 651.9 3096.1 656 3093C659.7 3090.2 662.9 3088 667.5 3086C673.5 3083.3 681.9 3078.9 689.4 3079.5C697.8 3080.2 707.1 3086.3 715.2 3092C724 3098.2 732.2 3106.2 739.8 3116C748.9 3127.7 756.9 3143.9 764.5 3158.6C772.3 3173.6 779 3189.6 786.1 3205.1C793.1 3220.6 799.9 3236.7 807 3251.5C813.6 3265.3 820.4 3277.8 827 3290.9C833.7 3304 839.9 3317.2 846.7 3330.2C853.7 3343.4 861.1 3356.4 868.4 3369.5C875.8 3382.6 883.1 3395.7 890.6 3408.8C898.1 3421.9 906.3 3436.1 913.5 3448.1C919.7 3458.4 923.9 3466.1 931.1 3476.7C940.8 3490.9 955 3510.2 967.2 3525C978.3 3538.4 989.2 3550.2 1000.8 3562C1012.2 3573.6 1023.9 3585.3 1036.1 3595C1047.5 3604.1 1059.3 3612.2 1071.3 3619C1082.8 3625.5 1094.6 3630.6 1106.6 3635C1118.1 3639.2 1130 3642.3 1141.8 3645C1153.5 3647.6 1165.4 3648.7 1177 3651C1188.6 3653.3 1197.9 3656.9 1211.5 3659C1230.7 3662 1258.5 3663.1 1282 3665C1305.5 3666.9 1329 3668.5 1352.5 3670.3C1376 3672.1 1396.9 3673.9 1423 3675.6C1455.5 3677.8 1495.8 3679.8 1532.8 3682C1570.6 3684.2 1609.3 3686.5 1647.5 3688.8" stroke="#0000ff"/>
<path d="M340.2 2621C346 2688.8 350.8 2758.5 357.4 2824.4C363.6 2886.9 371.9 2959.6 378.4 3006.7C382.5 3036.7 385.2 3056.6 390.2 3080C394.8 3101.9 400 3122.7 406.6 3143C412.9 3162.7 420.8 3182.9 428.7 3200C435.4 3214.7 443 3227.5 450 3240C456.4 3251.3 462.5 3262.6 468.9 3272C474.2 3279.9 480.5 3287.5 484.8 3293C487.7 3296.6 489.1 3299 492.1 3301.9C496 3305.6 501.8 3309.6 506.8 3312.6C511.6 3315.5 515.9 3318.2 521.5 3319.7C527.9 3321.5 536.2 3321.9 543.4 3321.5C550.8 3321.1 558.4 3320.2 565.4 3317C573.2 3313.5 580.5 3307 587.4 3300.1C595.2 3292.2 602.1 3281.2 609.3 3271.5C616.7 3261.6 624 3250.4 631.1 3241.1C637.6 3232.8 642.9 3224.3 650.2 3218C657.1 3212 665.2 3206.4 673.6 3203.7C681.8 3201 691.3 3200.9 699.7 3201.5C707.7 3202.1 715.7 3203.2 723.1 3206.9C731.5 3211 738.9 3218.7 746.6 3226.5C755.5 3235.6 764.9 3246.8 773 3258.7C781.7 3271.6 788.7 3287 796.4 3301.6C804.3 3316.7 811.8 3332.9 819.8 3348C827.4 3362.6 835.1 3377.4 843.2 3390.9C850.8 3403.5 858.5 3415.6 866.6 3426.7C874.2 3437 882.4 3446.6 890.1 3455.3C897 3463.1 904 3468.7 910.6 3476.7C917.7 3485.5 922.7 3496.3 931 3506C940.7 3517.3 954.4 3528.3 966.1 3539.5C977.9 3550.7 989.3 3562.6 1001.2 3573C1012.7 3583 1024.1 3592.8 1036.1 3601C1047.5 3608.9 1059.4 3615.6 1071.3 3621.5C1082.9 3627.2 1094.7 3632.1 1106.6 3636C1118.2 3639.9 1130 3642.5 1141.8 3645C1153.5 3647.5 1165.4 3649 1177 3651C1188.6 3653 1197.9 3655.3 1211.5 3657C1230.8 3659.4 1258.5 3660.7 1282 3662.5C1305.5 3664.2 1329 3665.8 1352.5 3667.5C1376 3669.2 1396.9 3670.8 1423 3672.5C1455.5 3674.6 1495.8 3676.9 1532.8 3679C1570.6 3681.2 1609.3 3683.3 1647.5 3685.5" stroke="#008000"/>
<path d="M345.6 2621C351.6 2688.8 356.8 2758.5 363.7 2824.4C370.2 2886.9 376.6 2950.5 385.7 3006.7C393.5 3055.6 402.5 3107.7 413.1 3143C420.1 3166.5 427.3 3181.5 436.1 3200C444.8 3218.4 455.8 3238.2 465.6 3253.6C473.5 3266 480.8 3276.8 489.3 3286C497.1 3294.3 505.6 3302.5 514.1 3307.2C521.2 3311.1 528.7 3313.4 536.1 3314C543.3 3314.6 551 3313.5 558 3310.8C565.7 3307.9 573.1 3302.7 580 3296.5C587.9 3289.4 594.9 3279.4 602 3269.7C609.6 3259.2 617.3 3245.7 623.9 3235.7C629.2 3227.7 632.6 3221.2 638.4 3214.4C645 3206.9 654.2 3198.2 661.9 3193C668.1 3188.8 673.9 3185.8 680.3 3184C686.5 3182.2 692.9 3181.5 699.7 3181.9C707.1 3182.3 715.7 3183.7 723.1 3187.2C731.4 3191.1 739.1 3197.9 746.6 3205.1C754.9 3213.1 762.6 3223.1 770 3233.7C778.3 3245.5 785.5 3260.3 793.4 3273C801.1 3285.3 809.1 3296.8 816.9 3308.7C824.7 3320.6 832.8 3332.9 840.3 3344.5C847.4 3355.5 853.6 3365.7 860.8 3376.6C868.5 3388.2 877 3400.5 885.2 3412C893.3 3423.3 901.5 3434.4 909.8 3445C917.9 3455.3 925.6 3464.3 934.4 3475C944.6 3487.4 956.2 3501.7 967.2 3515C978.3 3528.4 989.2 3542.4 1000.8 3555C1012.2 3567.3 1023.9 3579.7 1036.1 3590C1047.4 3599.6 1059.3 3607.9 1071.3 3615C1082.8 3621.8 1094.6 3627.3 1106.6 3632C1118.1 3636.6 1130 3640 1141.8 3643C1153.5 3646 1165.4 3647.6 1177 3650C1188.6 3652.4 1197.9 3655.5 1211.5 3657.5C1230.7 3660.4 1258.5 3661.7 1282 3663.5C1305.5 3665.3 1329 3666.8 1352.5 3668.5C1376 3670.2 1396.9 3671.9 1423 3673.6C1455.5 3675.7 1495.8 3677.8 1532.8 3680C1570.6 3682.2 1609.3 3684.5 1647.5 3686.8" stroke="#c47be4"/>
<path d="M347.5 2621C353.9 2688.8 360 2758.5 366.6 2824.4C372.9 2886.9 380.1 2961.4 386.1 3006.7C389.7 3033.8 392.6 3049.4 396.3 3071.5C400.2 3094.8 402.9 3120.8 409 3143C414.7 3163.4 422.7 3182.4 430.7 3200C438.1 3216.1 445.8 3230.6 454.9 3244.7C463.9 3258.6 474.7 3274.3 484.8 3284C492.5 3291.3 500.4 3296.7 508.3 3300.1C515.1 3303 521.9 3305 528.8 3304.5C536 3304 543.8 3300.7 550.7 3296.5C558.5 3291.8 565.7 3284.3 572.7 3276.8C580.4 3268.5 587.5 3258.1 594.7 3248.2C602.1 3237.9 610.8 3225 616.6 3216.1C620.8 3209.9 623.2 3205.8 626.9 3200C631.2 3193.2 636.1 3185.2 641 3178C645.8 3170.9 650.1 3163.3 656 3157.3C661.9 3151.3 669.2 3145.3 676.2 3142C682.4 3139.1 688.6 3137.2 695.3 3137.5C703.1 3137.9 712.5 3141.3 720.2 3146.1C728.7 3151.4 736.1 3160.6 743.6 3169.3C751.8 3178.9 759.9 3189.9 767 3201.5C774.6 3213.7 780.7 3227.7 787.5 3240.8C794.4 3253.9 800.9 3266.7 808 3280.1C815.5 3294.1 823.5 3309.1 831.5 3323C839.2 3336.5 847 3349.6 854.9 3362.3C862.6 3374.6 870.2 3386.2 878.4 3398.1C886.8 3410.4 895.6 3422.7 904.8 3435C914.1 3447.7 924 3459.9 934 3473C944.7 3486.9 955.9 3502.2 967.2 3516C978.2 3529.5 989.2 3542.6 1000.8 3555C1012.2 3567.2 1023.8 3579.9 1036.1 3590C1047.4 3599.4 1059.2 3607.4 1071.3 3614C1082.8 3620.3 1094.7 3624.6 1106.6 3629C1118.2 3633.3 1130 3637 1141.8 3640C1153.5 3643 1165.4 3644.7 1177 3647C1188.6 3649.3 1197.9 3652 1211.5 3654C1230.7 3656.9 1258.5 3658.7 1282 3661C1305.5 3663.2 1329 3665.2 1352.5 3667.5C1376 3669.8 1396.8 3673.1 1423 3675C1455.5 3677.4 1495.8 3678.1 1532.8 3679.5C1570.6 3680.9 1609.3 3682 1647.5 3683.2" stroke="#ff8000"/>
<path d="M354.9 2621C361.9 2688.8 367.9 2759.2 376 2824.4C383.5 2885.2 392.8 2954.5 401.1 3000C406.5 3029.2 411.1 3047.8 417.2 3071.5C423.3 3095.4 429.7 3120.8 437.7 3143C445.1 3163.3 454.9 3181.2 462.9 3200C470.6 3218.1 477.5 3238.2 484.8 3253.6C490.7 3265.9 496 3276.6 502.4 3285.8C507.8 3293.6 513.6 3300.4 519.7 3306C524.9 3310.9 530.2 3315 536.1 3317.9C541.6 3320.7 547.7 3323 553.7 3323.3C559.9 3323.6 566.4 3322.2 572.7 3319.7C580.1 3316.7 587.7 3311.2 594.7 3305.4C602.4 3299 610.1 3289.3 616.6 3282.2C622 3276.4 625.5 3271.8 631.1 3266.1C638.2 3258.9 647.5 3249.4 656 3243C663.6 3237.2 671.2 3231.9 679.5 3228.7C687.7 3225.6 696.9 3223.8 705.6 3224C714.3 3224.2 723.7 3226.3 731.9 3230.1C740.4 3234.1 747.9 3240.8 755.3 3248C763.6 3256 771.2 3266.3 778.8 3276.6C786.9 3287.6 794.4 3300.4 802.2 3312.3C810 3324.2 817.8 3336.1 825.7 3348C833.5 3359.9 841 3372.7 849.1 3383.8C856.6 3394.1 864.7 3403 872.5 3412.4C880.3 3421.7 888.1 3431 896 3440C903.7 3448.9 911.9 3457.5 919.4 3466C926.5 3474.1 932.6 3481.6 939.9 3490C948.1 3499.5 956.7 3509.5 966.1 3520.1C976.9 3532.2 989.3 3546.4 1001.2 3558.7C1012.8 3570.7 1024.2 3583.2 1036.4 3593C1047.6 3602 1059.3 3609.6 1071.3 3616C1082.8 3622.1 1094.7 3626.8 1106.6 3631C1118.2 3635.1 1130 3638.2 1141.8 3641C1153.5 3643.7 1165.3 3645.7 1177 3647.5C1188.6 3649.3 1198 3650.4 1211.5 3652C1230.8 3654.2 1258.5 3656.5 1282 3659C1305.5 3661.5 1329.5 3665 1352.5 3666.8C1374.3 3668.6 1388.5 3669 1416.4 3670C1469.5 3671.9 1570.5 3673.3 1647.5 3675" stroke="#00ff00"/>
<path d="M365.2 2621C373.6 2688.8 379.9 2759.3 390.6 2824.4C400.5 2885.3 416.1 2956 426.1 3000C432.1 3026.8 436.4 3043.2 442.1 3064.3C447.7 3084.9 454.1 3106.6 459.8 3125.1C464.6 3140.7 469.6 3154.7 473.8 3168C477.3 3179.4 479.7 3189.1 483.4 3200C487.3 3211.6 492.1 3224.7 496.6 3235.7C500.4 3245.3 504.7 3253.1 508.3 3262.5C512.1 3272.5 515.4 3283.5 518.9 3294C522.3 3304.4 524.3 3316 528.8 3325.1C532.7 3333.2 538.3 3340 543.4 3346.5C548.1 3352.4 552.8 3358.3 558 3362.6C562.7 3366.4 567.6 3369.8 572.7 3371.6C577.4 3373.3 582.5 3373.7 587.4 3373.7C592.2 3373.7 597.2 3373.1 602 3371.6C607 3370.1 611.8 3367.1 616.6 3364.4C621.6 3361.7 625.9 3359 631.1 3355.5C637.8 3351.1 645.6 3344.5 653.1 3339.5C660.7 3334.4 668.8 3328.9 676.5 3325.2C683.3 3321.9 690.1 3319.3 696.7 3318C702.7 3316.8 707.8 3316.5 714.3 3317C722.9 3317.6 734.8 3319 743.6 3323C752.4 3327 759.5 3334.1 767 3340.9C775.2 3348.2 782.8 3357.2 790.5 3365.9C798.5 3375 806 3385.4 813.9 3394.5C821.6 3403.2 829.6 3411.2 837.4 3419.5C845.2 3427.8 852 3436 860.8 3444.5C871.1 3454.4 884 3465.2 895.8 3475C907.4 3484.6 919.4 3493.3 931 3502.9C942.8 3512.6 954.6 3522.4 966.1 3533C978 3543.9 989.3 3556.4 1001.2 3567.3C1012.8 3577.8 1024.3 3588.6 1036.4 3597.3C1047.8 3605.6 1059.6 3612.6 1071.6 3618.7C1083.1 3624.6 1094.9 3629.5 1106.7 3633.7C1118.3 3637.8 1130.1 3640.9 1141.9 3643.6C1153.5 3646.2 1165.3 3647.9 1177 3649.6C1188.8 3651.3 1198.5 3652.6 1212.2 3653.9C1231.6 3655.7 1259.1 3657.2 1282.5 3658.6C1305.8 3660 1329.6 3661.5 1352.5 3662.5C1374.2 3663.4 1388.5 3663.9 1416.4 3664.4C1469.5 3665.3 1570.5 3665.3 1647.5 3665.8" stroke="#8b4d52"/>
<path d="M367 2621C374.3 2688.8 380.2 2759.2 388.9 2824.4C397.1 2885.2 409 2954.5 417.2 3000C422.5 3029.2 426 3048.4 431.6 3071.5C436.9 3093.6 442.5 3114.5 449.6 3135.8C456.8 3157.4 467 3180.5 474.6 3200C480.9 3216.2 486 3230.8 492.1 3244.7C497.7 3257.4 503.9 3269 509.8 3280.4C515.2 3291 519.8 3301.8 525.8 3310.8C531.2 3318.9 537.4 3326.9 543.4 3332.2C548.2 3336.3 553 3339.2 558 3341.2C562.8 3343.1 567.8 3344.1 572.7 3344.4C577.6 3344.7 582.6 3344.1 587.4 3343C592.3 3341.9 597.3 3340.1 602 3337.6C607 3334.9 611.9 3330.9 616.6 3326.9C621.7 3322.6 626.4 3317.2 631.1 3312.6C635.6 3308.3 639.1 3304.6 644.3 3300.2C650.8 3294.6 659.3 3287.8 667.7 3282.3C676.7 3276.5 687.6 3269.6 696.7 3266.3C703.9 3263.7 710 3262.3 717.2 3262.3C725.5 3262.3 735.4 3264.1 743.6 3267.6C752 3271.2 759.6 3277.3 767 3283.7C775.3 3290.8 782.7 3300.4 790.5 3308.7C798.3 3317 806.3 3325 813.9 3333.7C821.9 3342.8 829.4 3353.2 837.4 3362.3C845.1 3371.1 852.8 3379.5 860.8 3387.4C868.5 3395 876.3 3402.1 884.3 3408.8C891.9 3415.2 899.9 3420.7 907.7 3426.7C915.5 3432.6 924.2 3438 931.1 3444.5C937.7 3450.6 941.7 3456.6 948.5 3464.3C958.2 3475.1 972 3490 983.7 3502.9C995.4 3515.8 1006.9 3529.5 1018.9 3541.5C1030.3 3553 1041.9 3564.2 1054 3573.7C1065.4 3582.7 1077.2 3590.4 1089.2 3597.3C1100.7 3603.9 1112.5 3609.4 1124.3 3614.4C1135.9 3619.3 1146.4 3623.5 1159.4 3627.3C1175.1 3631.9 1193.3 3635.5 1212.2 3638.9C1233.9 3642.8 1259 3645.8 1282.5 3648.7C1305.8 3651.5 1329.6 3654.6 1352.5 3656C1374.2 3657.3 1388.5 3656.6 1416.4 3657.2C1469.5 3658.3 1570.5 3660.7 1647.5 3662.4" stroke="#8c8c00"/>
</g></g>
<g class="ax">
<rect x="243.2" y="2619.8" width="1762" height="2.2"/>
<rect x="2003" y="2619.8" width="2.2" height="1088.4"/>
<rect x="240.4" y="2619.8" width="5.6" height="1110.8"/>
<rect x="214.8" y="3705.4" width="1792" height="5.6"/>
<rect x="228.8" y="3597.2" width="14.4" height="4.6"/>
<rect x="214.8" y="3488.5" width="28.4" height="4.6"/>
<rect x="228.8" y="3379.7" width="14.4" height="4.6"/>
<rect x="214.8" y="3271" width="28.4" height="4.6"/>
<rect x="228.8" y="3162.3" width="14.4" height="4.6"/>
<rect x="214.8" y="3053.6" width="28.4" height="4.6"/>
<rect x="228.8" y="2944.9" width="14.4" height="4.6"/>
<rect x="214.8" y="2836.1" width="28.4" height="4.6"/>
<rect x="228.8" y="2727.4" width="14.4" height="4.6"/>
<rect x="214.8" y="2618.7" width="28.4" height="4.6"/>
<rect x="328.4" y="3708.2" width="5.6" height="11.8"/>
<rect x="416.5" y="3708.2" width="5.6" height="22.4"/>
<rect x="504.5" y="3708.2" width="5.6" height="11.8"/>
<rect x="592.6" y="3708.2" width="5.6" height="22.4"/>
<rect x="680.6" y="3708.2" width="5.6" height="11.8"/>
<rect x="768.6" y="3708.2" width="5.6" height="22.4"/>
<rect x="856.7" y="3708.2" width="5.6" height="11.8"/>
<rect x="944.7" y="3708.2" width="5.6" height="22.4"/>
<rect x="1032.8" y="3708.2" width="5.6" height="11.8"/>
<rect x="1120.8" y="3708.2" width="5.6" height="22.4"/>
<rect x="1208.8" y="3708.2" width="5.6" height="11.8"/>
<rect x="1296.9" y="3708.2" width="5.6" height="22.4"/>
<rect x="1384.9" y="3708.2" width="5.6" height="11.8"/>
<rect x="1473" y="3708.2" width="5.6" height="22.4"/>
<rect x="1561" y="3708.2" width="5.6" height="11.8"/>
<rect x="1649" y="3708.2" width="5.6" height="22.4"/>
<rect x="1737.1" y="3708.2" width="5.6" height="11.8"/>
<rect x="1825.1" y="3708.2" width="5.6" height="22.4"/>
<rect x="1913.2" y="3708.2" width="5.6" height="11.8"/>
<rect x="2001.2" y="3708.2" width="5.6" height="22.4"/>
</g>
<g class="tl">
<text class="se" transform="translate(194.8 3726.5) scale(1.25 1)" font-size="60" text-anchor="end">0.0</text>
<text class="se" transform="translate(194.8 3509.1) scale(1.25 1)" font-size="60" text-anchor="end">0.5</text>
<text class="se" transform="translate(194.8 3291.6) scale(1.25 1)" font-size="60" text-anchor="end">1.0</text>
<text class="se" transform="translate(194.8 3074.2) scale(1.25 1)" font-size="60" text-anchor="end">1.5</text>
<text class="se" transform="translate(194.8 2856.7) scale(1.25 1)" font-size="60" text-anchor="end">2.0</text>
<text class="se" transform="translate(194.8 2639.3) scale(1.25 1)" font-size="60" text-anchor="end">2.5</text>
<text class="se" transform="translate(243.2 3789.2) scale(1.25 1)" font-size="60" text-anchor="middle">200</text>
<text class="se" transform="translate(419.3 3789.2) scale(1.25 1)" font-size="60" text-anchor="middle">220</text>
<text class="se" transform="translate(595.4 3789.2) scale(1.25 1)" font-size="60" text-anchor="middle">240</text>
<text class="se" transform="translate(771.4 3789.2) scale(1.25 1)" font-size="60" text-anchor="middle">260</text>
<text class="se" transform="translate(947.5 3789.2) scale(1.25 1)" font-size="60" text-anchor="middle">280</text>
<text class="se" transform="translate(1123.6 3789.2) scale(1.25 1)" font-size="60" text-anchor="middle">300</text>
<text class="se" transform="translate(1299.7 3789.2) scale(1.25 1)" font-size="60" text-anchor="middle">320</text>
<text class="se" transform="translate(1475.8 3789.2) scale(1.25 1)" font-size="60" text-anchor="middle">340</text>
<text class="se" transform="translate(1651.8 3789.2) scale(1.25 1)" font-size="60" text-anchor="middle">360</text>
<text class="se" transform="translate(1827.9 3789.2) scale(1.25 1)" font-size="60" text-anchor="middle">380</text>
<text class="se" transform="translate(2004 3789.2) scale(1.25 1)" font-size="60" text-anchor="middle">400</text>
</g>
<text class="se" transform="translate(1097.2 3861.1) scale(1.265 1)" font-size="59.5" text-anchor="middle">Wavelength (nm)</text>
<text class="se" transform="translate(91.4 3383.6) rotate(-90) scale(1.17 1)" font-size="60" x="0 35.1 62.1 81 105.3 126.8 153.8 178.1 205.1 226.7 248.2 260.4 276.5 300.8 313 340 352.1">Absorbance (a.u.)</text>
<text class="sa" transform="translate(1875.2 2691.9) scale(1.33 1)" font-size="56.5" text-anchor="start">(c)</text>
<g class="lg">
<path d="M1117 2797.9H1227" stroke="#000000"/>
<text class="se" transform="translate(1236 2811.9) scale(1.307 1)" font-size="36" text-anchor="start">(without Pd@Ni-Cr LDH)</text>
<path d="M1117 2843.9H1227" stroke="#ff0000"/>
<text class="se" transform="translate(1236 2857.9) scale(1.307 1)" font-size="36" text-anchor="start">(1 min)</text>
<path d="M1117 2889.8H1227" stroke="#0000ff"/>
<text class="se" transform="translate(1236 2903.8) scale(1.307 1)" font-size="36" text-anchor="start">(2 min)</text>
<path d="M1117 2935.8H1227" stroke="#c47be4"/>
<text class="se" transform="translate(1236 2949.8) scale(1.307 1)" font-size="36" text-anchor="start">(3 min)</text>
<path d="M1117 2981.8H1227" stroke="#008000"/>
<text class="se" transform="translate(1236 2995.8) scale(1.307 1)" font-size="36" text-anchor="start">(4 min)</text>
<path d="M1117 3027.8H1227" stroke="#ff8000"/>
<text class="se" transform="translate(1236 3041.8) scale(1.307 1)" font-size="36" text-anchor="start">(5 min)</text>
<path d="M1117 3073.7H1227" stroke="#00ff00"/>
<text class="se" transform="translate(1236 3087.7) scale(1.307 1)" font-size="36" text-anchor="start">(6 min)</text>
<path d="M1117 3119.7H1227" stroke="#8c8c00"/>
<text class="se" transform="translate(1236 3133.7) scale(1.307 1)" font-size="36" text-anchor="start">(7 min)</text>
<path d="M1117 3165.7H1227" stroke="#8b4d52"/>
<text class="se" transform="translate(1236 3179.7) scale(1.307 1)" font-size="36" text-anchor="start">(8 min)</text>
</g>
<rect x="1063.8" y="2755" width="6.4" height="461"/>
<path d="M1057.2 3214Q1055.2 3214 1055.8 3216.5L1064.4 3243.5Q1067 3245.8 1069.6 3243.5L1078.2 3216.5Q1078.8 3214 1076.8 3214Z"/>
</g>
</svg>
</body>
</html>
